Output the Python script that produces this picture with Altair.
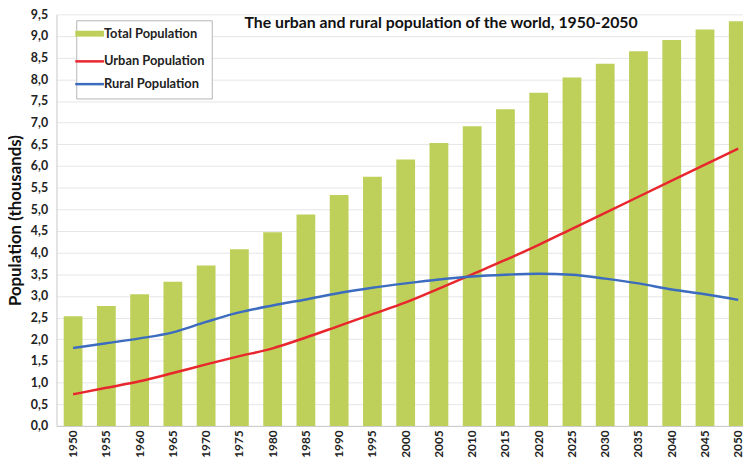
import altair as alt
import pandas as pd

years = [str(y) for y in range(1950, 2051, 5)]
total = [2.53, 2.77, 3.04, 3.33, 3.70, 4.08, 4.47, 4.88, 5.33, 5.75, 6.15,
         6.53, 6.92, 7.31, 7.69, 8.04, 8.36, 8.65, 8.91, 9.15, 9.34]
urban = [0.73, 0.88, 1.03, 1.22, 1.42, 1.61, 1.79, 2.04, 2.31, 2.58, 2.85,
         3.17, 3.50, 3.83, 4.18, 4.55, 4.92, 5.29, 5.66, 6.03, 6.40]
rural = [1.80, 1.91, 2.02, 2.16, 2.40, 2.62, 2.78, 2.92, 3.07, 3.19, 3.29,
         3.38, 3.45, 3.49, 3.51, 3.49, 3.40, 3.29, 3.15, 3.04, 2.91]

series_names = ["Total Population", "Urban Population", "Rural Population"]
series_colors = ["#bed05a", "#e8262d", "#3c6cbf"]
y_ticks = [i * 0.5 for i in range(20)]

bars_df = pd.DataFrame({"year": years, "value": total, "series": series_names[0]})
lines_df = pd.concat([
    pd.DataFrame({"year": years, "value": urban, "series": series_names[1]}),
    pd.DataFrame({"year": years, "value": rural, "series": series_names[2]}),
])

FONT = "Lato"
W = 694
STEP_RANGE = 706

x_enc = alt.X(
    "year:N",
    sort=years,
    scale=alt.Scale(range=[0, STEP_RANGE], paddingInner=0.435, paddingOuter=0.2175),
    axis=alt.Axis(
        title=None, labelAngle=270, labelFont=FONT, labelFontWeight="bold",
        labelFontSize=12, labelColor="#222222", labelPadding=4,
        domainColor="#c8c8c8", ticks=False, grid=False,
    ),
)
y_enc = alt.Y(
    "value:Q",
    scale=alt.Scale(domain=[0, 9.5], nice=False),
    axis=alt.Axis(
        title="Population (thousands)", values=y_ticks, labelOverlap=False,
        tickCount=20,
        labelExpr="replace(format(datum.value, '.1f'), '.', ',')",
        labelFont=FONT, labelFontWeight="bold", labelFontSize=12.5,
        labelColor="#222222", labelPadding=9, ticks=False,
        domainColor="#c8c8c8", gridColor="#e6e6e6",
        titleFont=FONT, titleFontWeight="bold", titleFontSize=17,
        titleColor="#111111", titleX=-41, titleY=208, titleAngle=270,
        titleAlign="center", titleBaseline="middle",
    ),
)
color_enc = alt.Color(
    "series:N",
    scale=alt.Scale(domain=series_names, range=series_colors),
    legend=alt.Legend(
        title=None, orient="none", legendX=20, legendY=6,
        symbolType="stroke", symbolSize=840,
        symbolStrokeWidth=alt.ExprRef("datum.value == 'Total Population' ? 6 : 2.5"),
        labelFont=FONT, labelFontWeight="bold", labelFontSize=13,
        labelColor="#222222",
        rowPadding=9, labelOffset=8,
    ),
)

bars = alt.Chart(bars_df).mark_bar().encode(x=x_enc, y=y_enc, color=color_enc)
lines = alt.Chart(lines_df).mark_line(interpolate="monotone", strokeWidth=2.5).encode(
    x=x_enc, y=y_enc, color=color_enc, detail="series:N"
)

chart = (
    alt.layer(bars, lines)
    .properties(
        width=W, height=416,
        autosize=alt.AutoSizeParams(type="none"),
        padding={"left": 49, "top": 4, "right": 0, "bottom": 30},
        title=alt.Title(
            "The urban and rural population of the world, 1950-2050",
            anchor="start", dx=240, dy=36, offset=0, baseline="alphabetic",
            font=FONT, fontSize=16, fontWeight="bold", color="#111111",
        ),
    )
    .configure_view(stroke=None)
    .configure_axis(labelOverlap=False)
    .configure_legend(fillColor="white", strokeColor="#b5b5b5", padding=7)
)

chart.save("out.html", embed_options={"renderer": "svg", "actions": False})
